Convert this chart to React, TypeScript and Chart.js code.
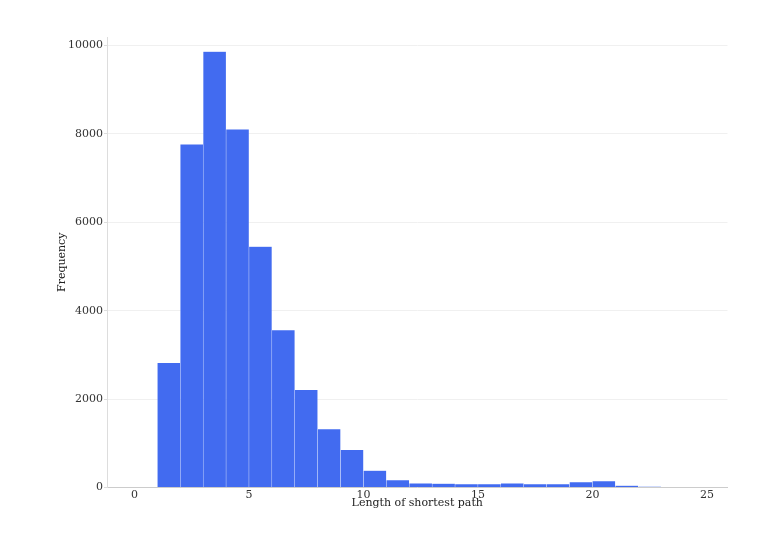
import React, { useEffect, useRef } from "react";
import { Chart, registerables } from "chart.js";

Chart.register(...registerables);

const binStarts = [1, 2, 3, 4, 5, 6, 7, 8, 9, 10, 11, 12, 13, 14, 15, 16, 17, 18, 19, 20, 21, 22];
const frequencies = [2820, 7760, 9860, 8100, 5450, 3560, 2210, 1320, 850, 385, 170, 95, 90, 75, 75, 95, 75, 75, 120, 145, 45, 15];
const xTickValues = [0, 5, 10, 15, 20, 25];
const yTickValues = [0, 2000, 4000, 6000, 8000, 10000];
const xTitle = "Length of shortest path";
const yTitle = "Frequency";

const FONT = "'DejaVu Serif', serif";

export default function App() {
  const ref = useRef<HTMLCanvasElement | null>(null);
  useEffect(() => {
    if (!ref.current) return;
    const data = binStarts.map((s, i) => ({ x: s + 0.5, y: frequencies[i] }));
    const chart = new Chart(ref.current, {
      type: "bar",
      data: {
        datasets: [
          {
            data,
            backgroundColor: "rgb(66,107,240)",
            borderColor: "rgba(255,255,255,0.2)",
            borderWidth: 0.5,
            barPercentage: 1,
            categoryPercentage: 1,
          },
        ],
      },
      options: {
        animation: false,
        responsive: false,
        maintainAspectRatio: false,
        layout: { padding: { left: 0, right: 50.5, top: 37, bottom: 0 } },
        plugins: { legend: { display: false }, tooltip: { enabled: false } },
        scales: {
          x: {
            type: "linear",
            min: -1.2,
            max: 25.9,
            offset: false,
            grid: { display: false, drawTicks: false },
            border: { display: true, color: "#cccccc", width: 1 },
            afterBuildTicks: (s: any) => {
              s.ticks = xTickValues.map((v) => ({ value: v }));
            },
            ticks: {
              padding: 1,
              color: "#333",
              font: { family: FONT, size: 11 },
              maxRotation: 0,
              autoSkip: false,
              callback: (v: any) => String(v),
            },
            title: {
              display: true,
              text: xTitle,
              color: "#222",
              font: { family: FONT, size: 11 },
              padding: { top: 0, bottom: 40 },
            },
            afterFit: (s: any) => {
              s.height = 62.5;
            },
          },
          y: {
            type: "linear",
            min: 0,
            max: 10190,
            grid: {
              color: "#f0f0f0",
              lineWidth: 1,
              drawTicks: true,
              tickLength: 3,
              tickColor: "#dddddd",
            },
            border: { display: true, color: "#dddddd", width: 1 },
            afterBuildTicks: (s: any) => {
              s.ticks = yTickValues.map((v) => ({ value: v }));
            },
            ticks: {
              padding: 1,
              color: "#333",
              font: { family: FONT, size: 11 },
              autoSkip: false,
              callback: (v: any) => String(v),
            },
            title: {
              display: true,
              text: yTitle,
              color: "#222",
              font: { family: FONT, size: 11 },
              padding: { top: 56, bottom: 0 },
            },
            afterFit: (s: any) => {
              s.width = 107;
            },
          },
        },
      },
    });
    return () => chart.destroy();
  }, []);
  return (
    <div style={{ position: "fixed", left: 0, top: 0, width: 778, height: 550, background: "#fff" }}>
      <canvas ref={ref} width={778} height={550} style={{ width: 778, height: 550, display: "block" }} />
    </div>
  );
}
